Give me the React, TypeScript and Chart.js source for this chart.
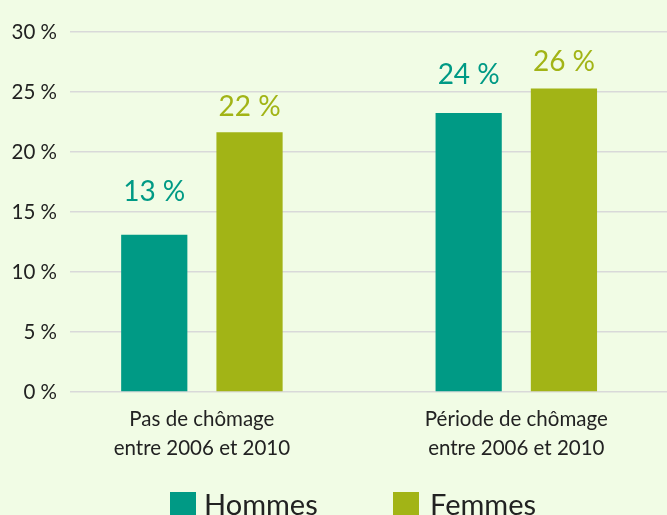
import React, { useEffect, useRef } from "react";
import { Chart, registerables } from "chart.js";

Chart.register(...registerables);

const categories: string[][] = [
  ["Pas de chômage", "entre 2006 et 2010"],
  ["Période de chômage", "entre 2006 et 2010"],
];
const seriesNames = ["Hommes", "Femmes"];
const hommes = [13.1, 23.25];
const femmes = [21.65, 25.3];
const hommesLabels = ["13 %", "24 %"];
const femmesLabels = ["22 %", "26 %"];
const yTicks = [0, 5, 10, 15, 20, 25, 30];

const TEAL = "#009A85";
const OLIVE = "#A2B416";
const BG = "#F1FCE5";
const FONT = "Lato, 'Open Sans', sans-serif";

const labelOffsets = [
  [43, 38],
  [25, 26],
];

export default function App() {
  const ref = useRef<HTMLCanvasElement | null>(null);

  useEffect(() => {
    document.body.style.margin = "0";
    const canvas = ref.current;
    if (!canvas) return;

    const labelPlugin = {
      id: "valueLabels",
      afterDatasetsDraw(chart: any) {
        const ctx = chart.ctx;
        ctx.save();
        ctx.font = `28px ${FONT}`;
        ctx.textAlign = "center";
        ctx.textBaseline = "middle";
        const texts = [hommesLabels, femmesLabels];
        chart.data.datasets.forEach((ds: any, di: number) => {
          const meta = chart.getDatasetMeta(di);
          ctx.fillStyle = ds.backgroundColor;
          meta.data.forEach((el: any, i: number) => {
            ctx.fillText(texts[di][i], el.x, el.y - labelOffsets[di][i]);
          });
        });
        ctx.restore();
      },
    };

    const legendPlugin = {
      id: "customLegend",
      afterDraw(chart: any) {
        const ctx = chart.ctx;
        ctx.save();
        ctx.font = `29px ${FONT}`;
        ctx.textAlign = "left";
        ctx.textBaseline = "alphabetic";
        const boxX = [170, 393];
        const textX = [204, 430];
        chart.data.datasets.forEach((ds: any, di: number) => {
          ctx.fillStyle = ds.backgroundColor;
          ctx.fillRect(boxX[di], 492, 26, 26);
          ctx.fillStyle = "#222222";
          ctx.fillText(seriesNames[di], textX[di], 515);
        });
        ctx.restore();
      },
    };

    const chart = new Chart(canvas, {
      type: "bar",
      data: {
        datasets: [
          {
            label: seriesNames[0],
            data: hommes.map((v, i) => ({ x: i, y: v })),
            backgroundColor: TEAL,
            categoryPercentage: 0.606,
            barPercentage: 0.695,
          },
          {
            label: seriesNames[1],
            data: femmes.map((v, i) => ({ x: i, y: v })),
            backgroundColor: OLIVE,
            categoryPercentage: 0.606,
            barPercentage: 0.695,
          },
        ],
      },
      options: {
        animation: false,
        responsive: false,
        maintainAspectRatio: false,
        layout: { padding: { top: 32, left: 0, right: 0, bottom: 0 } },
        plugins: {
          legend: { display: false },
          tooltip: { enabled: false },
        },
        scales: {
          x: {
            type: "linear",
            offset: false,
            min: -0.4195,
            max: 1.4793,
            afterBuildTicks(scale: any) {
              scale.ticks = categories.map((_, i) => ({ value: i }));
            },
            afterFit(scale: any) {
              scale.height = 123;
            },
            grid: { display: false, drawTicks: false },
            border: { display: false },
            ticks: {
              padding: 13,
              color: "#222222",
              font: { family: FONT, size: 20.5, lineHeight: 1.4 },
              callback: (v: any) => categories[Number(v)] ?? "",
              autoSkip: false,
              maxRotation: 0,
            },
          },
          y: {
            min: 0,
            max: 30,
            afterBuildTicks(scale: any) {
              scale.ticks = yTicks.map((v) => ({ value: v }));
            },
            afterFit(scale: any) {
              scale.width = 70;
            },
            grid: { color: "#D9D9D9", lineWidth: 1.5, drawTicks: false },
            border: { display: false },
            ticks: {
              padding: 13,
              color: "#222222",
              font: { family: FONT, size: 20.5 },
              callback: (v: any) => `${v} %`,
            },
          },
        },
      },
      plugins: [labelPlugin, legendPlugin],
    } as any);

    return () => chart.destroy();
  }, []);

  return (
    <div style={{ width: 667, height: 515, background: BG }}>
      <canvas ref={ref} width={667} height={515} style={{ display: "block" }} />
    </div>
  );
}
